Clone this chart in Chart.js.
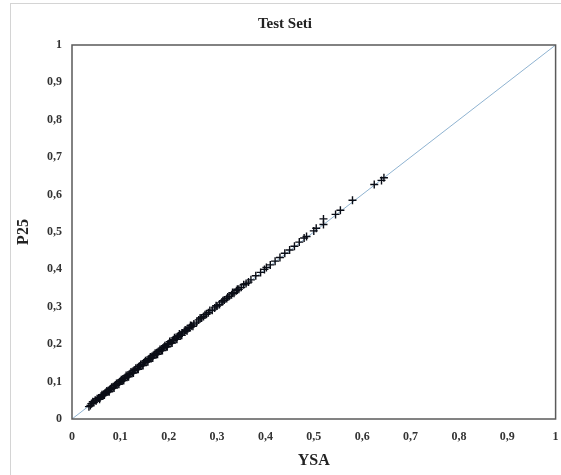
<!DOCTYPE html>
<html>
<head>
<meta charset="utf-8">
<script src="https://cdn.jsdelivr.net/npm/chart.js@4.4.1/dist/chart.umd.min.js"></script>
<style>
  body { margin: 0; background: #fff; overflow: hidden; }
  #frame { position: absolute; left: 10px; top: 3px; width: 700px; height: 700px; border: 1px solid #d4d4d4; }
  #wrap { position: absolute; left: 0; top: 0; width: 561px; height: 475px; }
</style>
</head>
<body>
<div id="frame"></div>
<div id="wrap"><canvas id="scatterChart" width="561" height="475"></canvas></div>
<script>
// YSA (x) vs P25 (y)
const ysa = [
  0.035, 0.04, 0.045, 0.048, 0.05, 0.055, 0.058, 0.06, 0.065, 0.068,
  0.07, 0.075, 0.078, 0.08, 0.085, 0.088, 0.09, 0.095, 0.098, 0.1,
  0.105, 0.108, 0.11, 0.115, 0.118, 0.12, 0.125, 0.128, 0.13, 0.135,
  0.138, 0.14, 0.145, 0.148, 0.15, 0.155, 0.158, 0.16, 0.165, 0.168,
  0.17, 0.175, 0.178, 0.18, 0.185, 0.188, 0.19, 0.195, 0.198, 0.2,
  0.205, 0.208, 0.21, 0.215, 0.218, 0.22, 0.225, 0.228, 0.232, 0.236,
  0.24, 0.243, 0.247, 0.252, 0.258, 0.262, 0.268, 0.272, 0.278, 0.282,
  0.29, 0.295, 0.3, 0.305, 0.31, 0.315, 0.32, 0.325, 0.33, 0.335,
  0.34, 0.345, 0.35, 0.36, 0.365, 0.37, 0.38, 0.39, 0.398, 0.402,
  0.41, 0.42, 0.43, 0.44, 0.45, 0.46, 0.47, 0.48, 0.485, 0.5,
  0.505, 0.52, 0.52, 0.545, 0.555, 0.58, 0.625, 0.64, 0.645,
  0.038, 0.043, 0.052, 0.057, 0.062, 0.067, 0.072, 0.077, 0.082, 0.087,
  0.092, 0.097, 0.102, 0.107, 0.112, 0.117, 0.122, 0.127, 0.132, 0.137,
  0.142, 0.147, 0.152, 0.157, 0.162, 0.167, 0.172, 0.177, 0.182, 0.187,
  0.192, 0.197, 0.202, 0.207, 0.212, 0.217, 0.222, 0.227, 0.234, 0.238,
  0.245, 0.25, 0.265, 0.275, 0.285, 0.298, 0.312, 0.322, 0.332, 0.342,
  0.355
];
const p25 = [
  0.033, 0.041, 0.044, 0.05, 0.049, 0.056, 0.057, 0.061, 0.064, 0.069,
  0.071, 0.074, 0.079, 0.081, 0.084, 0.089, 0.091, 0.094, 0.099, 0.101,
  0.104, 0.109, 0.111, 0.114, 0.119, 0.121, 0.124, 0.13, 0.131, 0.134,
  0.14, 0.141, 0.144, 0.15, 0.152, 0.154, 0.16, 0.161, 0.164, 0.17,
  0.172, 0.174, 0.18, 0.181, 0.184, 0.19, 0.192, 0.194, 0.2, 0.201,
  0.204, 0.21, 0.212, 0.214, 0.22, 0.222, 0.224, 0.23, 0.234, 0.237,
  0.242, 0.244, 0.249, 0.254, 0.259, 0.265, 0.27, 0.274, 0.28, 0.284,
  0.291, 0.297, 0.302, 0.306, 0.313, 0.318, 0.322, 0.328, 0.332, 0.336,
  0.343, 0.347, 0.352, 0.362, 0.366, 0.372, 0.383, 0.392, 0.4, 0.405,
  0.412, 0.422, 0.432, 0.443, 0.452, 0.462, 0.473, 0.484, 0.488, 0.503,
  0.51, 0.52, 0.535, 0.547, 0.558, 0.585, 0.627, 0.638, 0.645,
  0.036, 0.046, 0.054, 0.053, 0.065, 0.064, 0.075, 0.073, 0.085, 0.083,
  0.095, 0.093, 0.105, 0.103, 0.116, 0.113, 0.126, 0.123, 0.136, 0.133,
  0.146, 0.143, 0.156, 0.153, 0.166, 0.163, 0.176, 0.173, 0.186, 0.183,
  0.196, 0.193, 0.207, 0.203, 0.217, 0.213, 0.227, 0.224, 0.238, 0.236,
  0.25, 0.248, 0.27, 0.279, 0.29, 0.303, 0.316, 0.326, 0.338, 0.347,
  0.359
];
const refLine = [0, 1];
const tickLabels = ['0', '0,1', '0,2', '0,3', '0,4', '0,5', '0,6', '0,7', '0,8', '0,9', '1'];

const serif = '"Liberation Serif", "Times New Roman", serif';

const frameBox = {
  id: 'frameBox',
  afterDatasetsDraw(chart) {
    const a = chart.chartArea;
    const ctx = chart.ctx;
    ctx.save();
    ctx.strokeStyle = '#5a5a5a';
    ctx.lineWidth = 1.5;
    ctx.strokeRect(a.left, a.top, a.right - a.left, a.bottom - a.top);
    ctx.restore();
  }
};

new Chart(document.getElementById('scatterChart'), {
  type: 'scatter',
  data: {
    datasets: [{
      type: 'line',
      data: refLine.map(v => ({ x: v, y: v })),
      borderColor: '#8fb3d1',
      borderWidth: 1,
      pointRadius: 0,
      fill: false,
      order: 2
    }, {
      data: ysa.map((v, i) => ({ x: v, y: p25[i] })),
      pointStyle: 'cross',
      pointRadius: 4,
      borderColor: '#0a0d16',
      borderWidth: 1.4,
      order: 1
    }]
  },
  options: {
    responsive: false,
    animation: false,
    events: [],
    layout: { padding: { left: 10, right: 1, top: 0, bottom: 0 } },
    plugins: {
      legend: { display: false },
      tooltip: { enabled: false },
      title: {
        display: true,
        text: 'Test Seti',
        color: '#222',
        font: { family: serif, size: 15, weight: 'bold' },
        padding: { top: 15, bottom: 12 }
      }
    },
    scales: {
      x: {
        type: 'linear',
        min: 0,
        max: 1,
        afterFit: s => { s.height = 56; s.paddingLeft = 0; s.paddingRight = 0; },
        grid: { display: false, drawTicks: false },
        border: { display: false },
        ticks: {
          stepSize: 0.1,
          padding: 11,
          color: '#333',
          font: { family: serif, size: 12, weight: 'bold' },
          maxRotation: 0,
          callback: (v, i) => tickLabels[i]
        },
        title: {
          display: true,
          text: 'YSA',
          color: '#222',
          font: { family: serif, size: 16, weight: 'bold' },
          padding: { top: 4, bottom: 5 }
        }
      },
      y: {
        type: 'linear',
        min: 0,
        max: 1,
        afterFit: s => { s.width = 62; s.paddingTop = 0; s.paddingBottom = 0; },
        grid: { display: false, drawTicks: false },
        border: { display: false },
        ticks: {
          stepSize: 0.1,
          padding: 10,
          color: '#333',
          font: { family: serif, size: 12, weight: 'bold' },
          callback: (v, i) => tickLabels[i]
        },
        title: {
          display: true,
          text: 'P25',
          color: '#222',
          font: { family: serif, size: 16, weight: 'bold' },
          padding: { top: 4, bottom: 4 }
        }
      }
    }
  },
  plugins: [frameBox]
});
</script>
</body>
</html>
